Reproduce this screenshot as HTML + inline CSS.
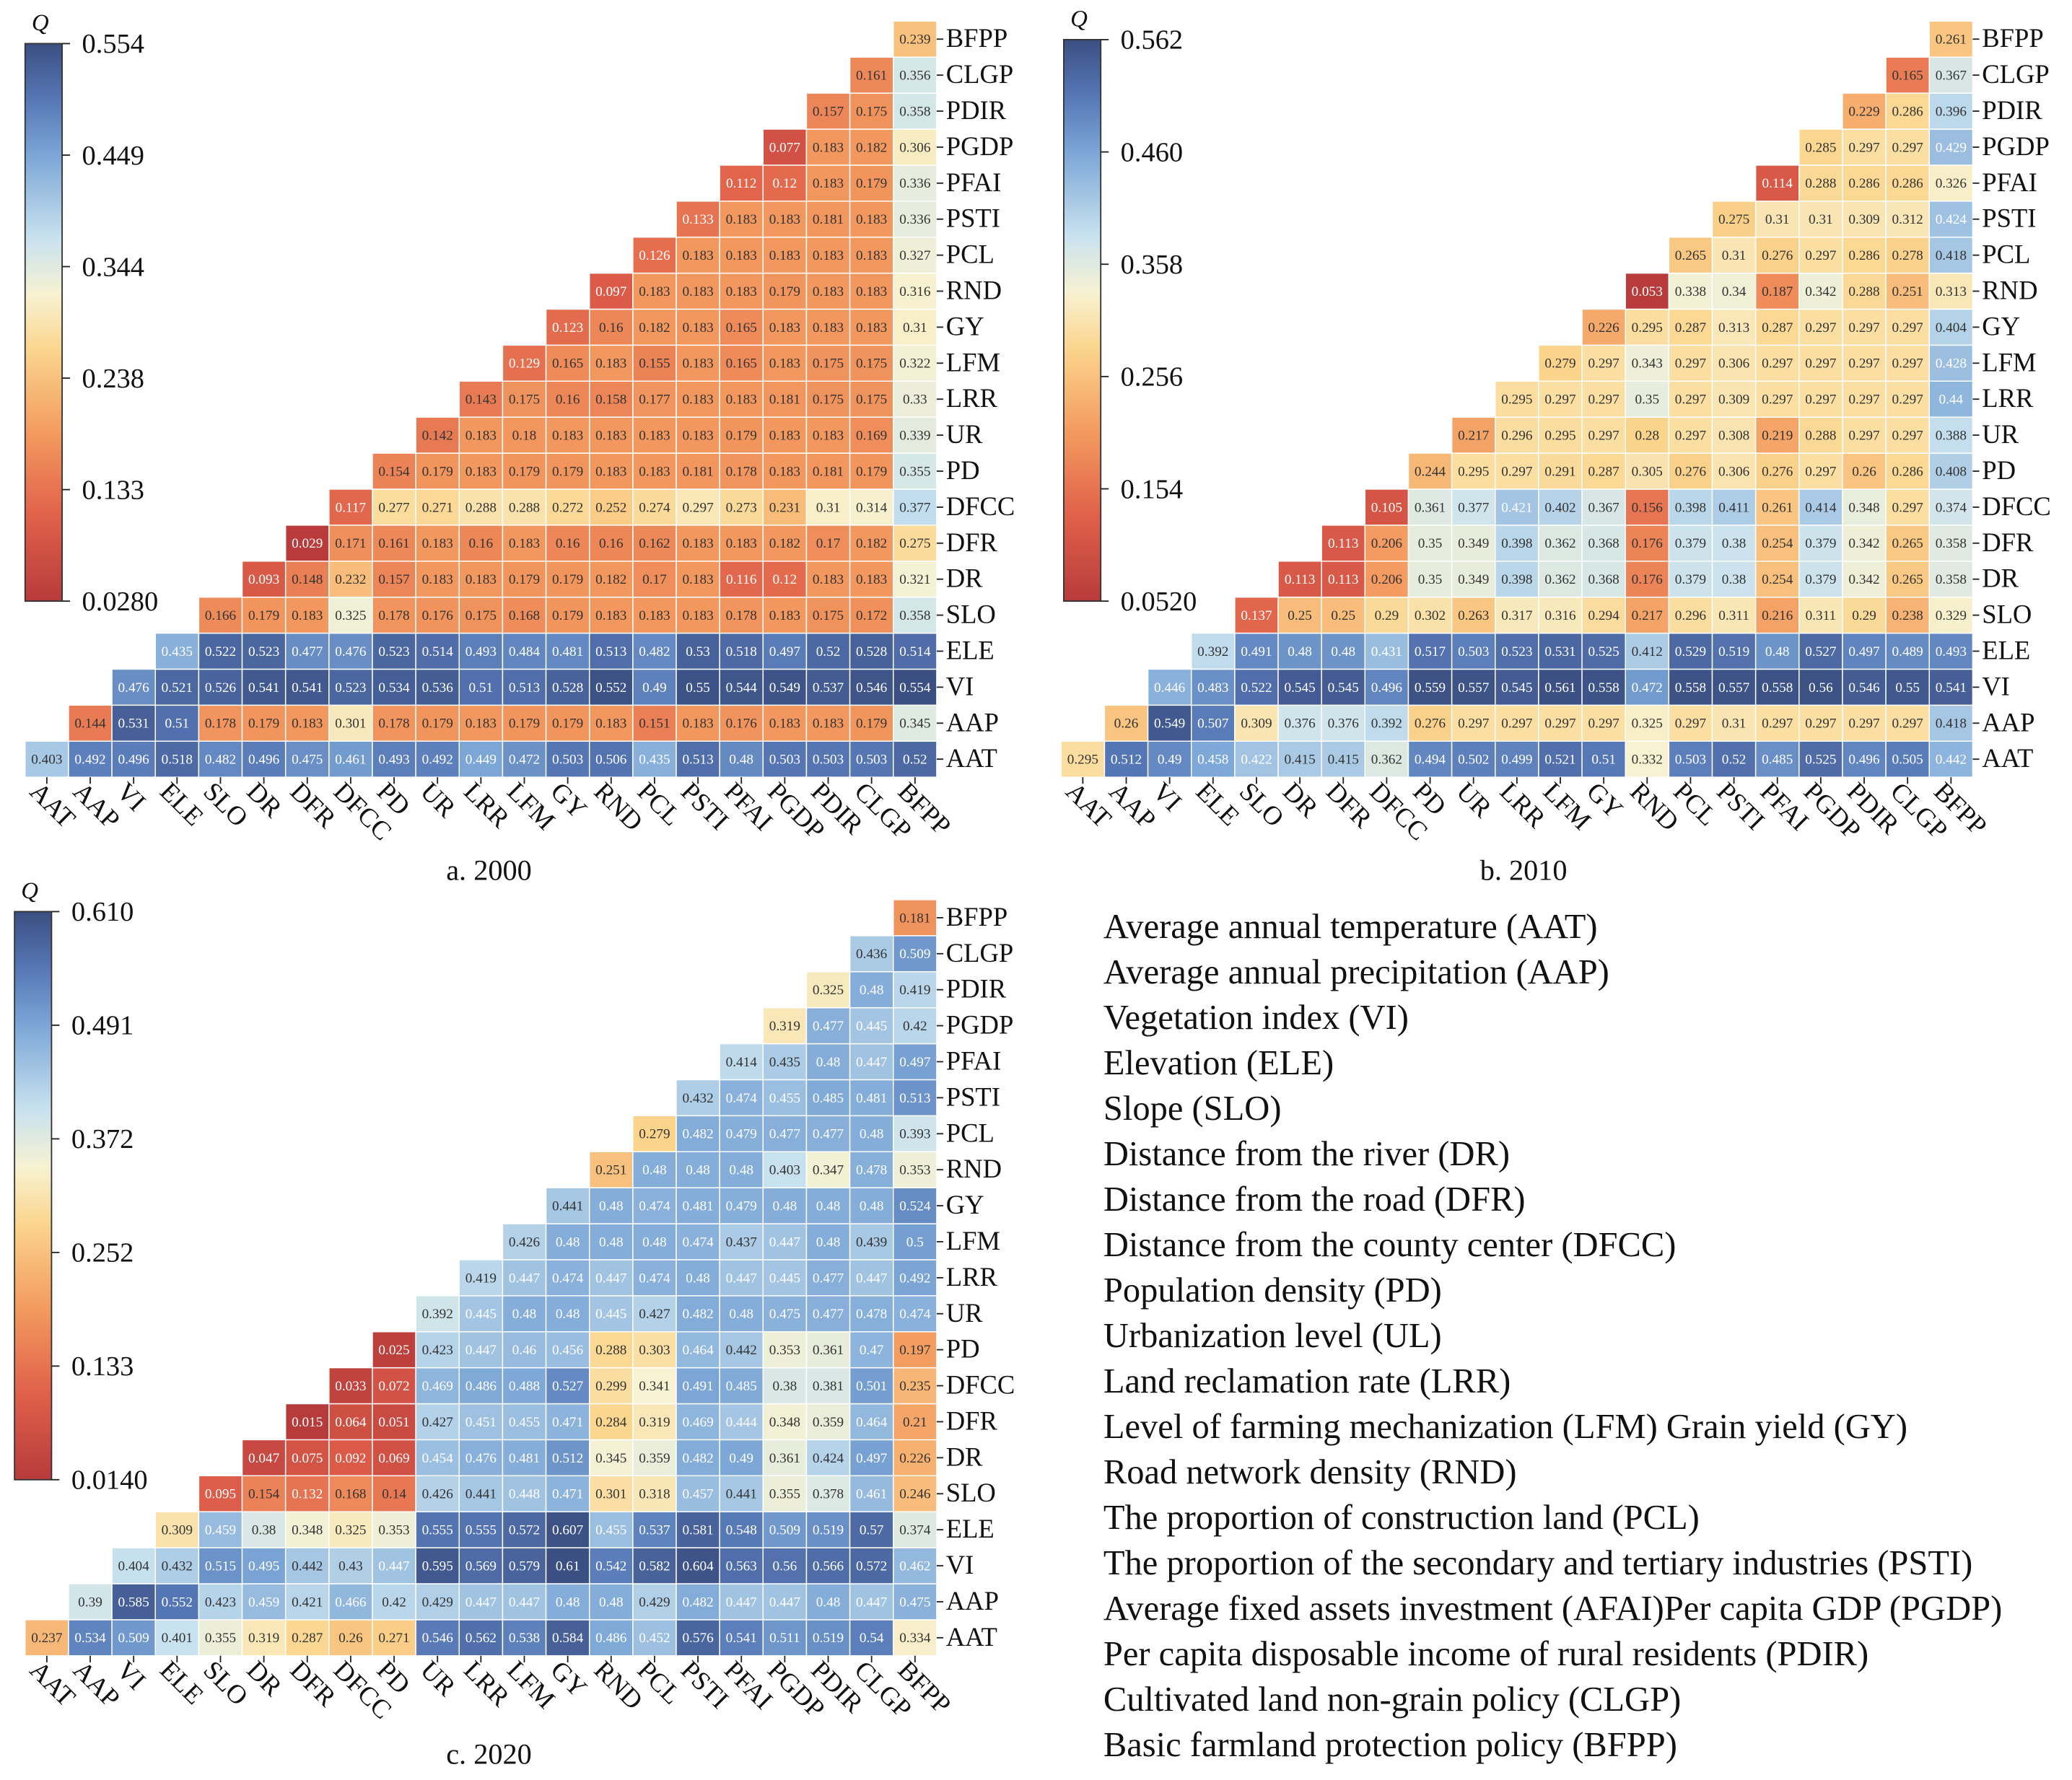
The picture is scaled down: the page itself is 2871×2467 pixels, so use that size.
<!DOCTYPE html>
<html><head><meta charset="utf-8"><style>html,body{margin:0;padding:0;background:#fff}svg{display:block}</style></head>
<body>
<svg id="chart" width="2871" height="2467" viewBox="0 0 1568 1347.3" preserveAspectRatio="none" xmlns="http://www.w3.org/2000/svg" font-family="Liberation Serif, serif">
<defs>
<linearGradient id="cb" x1="0" y1="1" x2="0" y2="0">
<stop offset="0" stop-color="#b83b3b"/><stop offset="0.15" stop-color="#e0604a"/><stop offset="0.3" stop-color="#f39a5f"/><stop offset="0.45" stop-color="#fbd58d"/><stop offset="0.55" stop-color="#f7f2d2"/><stop offset="0.65" stop-color="#c9e2ef"/><stop offset="0.8" stop-color="#7ba6d6"/><stop offset="0.9" stop-color="#5677b5"/><stop offset="1" stop-color="#3b4f82"/>
</linearGradient>
</defs>
<g id="legend" font-size="26.5" fill="#111"></g>
</svg>
<script>
const labels=["AAT","AAP","VI","ELE","SLO","DR","DFR","DFCC","PD","UR","LRR","LFM","GY","RND","PCL","PSTI","PFAI","PGDP","PDIR","CLGP","BFPP"];
const valsA=[
[0.403,0.492,0.496,0.518,0.482,0.496,0.475,0.461,0.493,0.492,0.449,0.472,0.503,0.506,0.435,0.513,0.48,0.503,0.503,0.503,0.52],
[0.144,0.531,0.51,0.178,0.179,0.183,0.301,0.178,0.179,0.183,0.179,0.179,0.183,0.151,0.183,0.176,0.183,0.183,0.179,0.345],
[0.476,0.521,0.526,0.541,0.541,0.523,0.534,0.536,0.51,0.513,0.528,0.552,0.49,0.55,0.544,0.549,0.537,0.546,0.554],
[0.435,0.522,0.523,0.477,0.476,0.523,0.514,0.493,0.484,0.481,0.513,0.482,0.53,0.518,0.497,0.52,0.528,0.514],
[0.166,0.179,0.183,0.325,0.178,0.176,0.175,0.168,0.179,0.183,0.183,0.183,0.178,0.183,0.175,0.172,0.358],
[0.093,0.148,0.232,0.157,0.183,0.183,0.179,0.179,0.182,0.17,0.183,0.116,0.12,0.183,0.183,0.321],
[0.029,0.171,0.161,0.183,0.16,0.183,0.16,0.16,0.162,0.183,0.183,0.182,0.17,0.182,0.275],
[0.117,0.277,0.271,0.288,0.288,0.272,0.252,0.274,0.297,0.273,0.231,0.31,0.314,0.377],
[0.154,0.179,0.183,0.179,0.179,0.183,0.183,0.181,0.178,0.183,0.181,0.179,0.355],
[0.142,0.183,0.18,0.183,0.183,0.183,0.183,0.179,0.183,0.183,0.169,0.339],
[0.143,0.175,0.16,0.158,0.177,0.183,0.183,0.181,0.175,0.175,0.33],
[0.129,0.165,0.183,0.155,0.183,0.165,0.183,0.175,0.175,0.322],
[0.123,0.16,0.182,0.183,0.165,0.183,0.183,0.183,0.31],
[0.097,0.183,0.183,0.183,0.179,0.183,0.183,0.316],
[0.126,0.183,0.183,0.183,0.183,0.183,0.327],
[0.133,0.183,0.183,0.181,0.183,0.336],
[0.112,0.12,0.183,0.179,0.336],
[0.077,0.183,0.182,0.306],
[0.157,0.175,0.358],
[0.161,0.356],
[0.239]];
const valsB=[
[0.295,0.512,0.49,0.458,0.422,0.415,0.415,0.362,0.494,0.502,0.499,0.521,0.51,0.332,0.503,0.52,0.485,0.525,0.496,0.505,0.442],
[0.26,0.549,0.507,0.309,0.376,0.376,0.392,0.276,0.297,0.297,0.297,0.297,0.325,0.297,0.31,0.297,0.297,0.297,0.297,0.418],
[0.446,0.483,0.522,0.545,0.545,0.496,0.559,0.557,0.545,0.561,0.558,0.472,0.558,0.557,0.558,0.56,0.546,0.55,0.541],
[0.392,0.491,0.48,0.48,0.431,0.517,0.503,0.523,0.531,0.525,0.412,0.529,0.519,0.48,0.527,0.497,0.489,0.493],
[0.137,0.25,0.25,0.29,0.302,0.263,0.317,0.316,0.294,0.217,0.296,0.311,0.216,0.311,0.29,0.238,0.329],
[0.113,0.113,0.206,0.35,0.349,0.398,0.362,0.368,0.176,0.379,0.38,0.254,0.379,0.342,0.265,0.358],
[0.113,0.206,0.35,0.349,0.398,0.362,0.368,0.176,0.379,0.38,0.254,0.379,0.342,0.265,0.358],
[0.105,0.361,0.377,0.421,0.402,0.367,0.156,0.398,0.411,0.261,0.414,0.348,0.297,0.374],
[0.244,0.295,0.297,0.291,0.287,0.305,0.276,0.306,0.276,0.297,0.26,0.286,0.408],
[0.217,0.296,0.295,0.297,0.28,0.297,0.308,0.219,0.288,0.297,0.297,0.388],
[0.295,0.297,0.297,0.35,0.297,0.309,0.297,0.297,0.297,0.297,0.44],
[0.279,0.297,0.343,0.297,0.306,0.297,0.297,0.297,0.297,0.428],
[0.226,0.295,0.287,0.313,0.287,0.297,0.297,0.297,0.404],
[0.053,0.338,0.34,0.187,0.342,0.288,0.251,0.313],
[0.265,0.31,0.276,0.297,0.286,0.278,0.418],
[0.275,0.31,0.31,0.309,0.312,0.424],
[0.114,0.288,0.286,0.286,0.326],
[0.285,0.297,0.297,0.429],
[0.229,0.286,0.396],
[0.165,0.367],
[0.261]];
const valsC=[
[0.237,0.534,0.509,0.401,0.355,0.319,0.287,0.26,0.271,0.546,0.562,0.538,0.584,0.486,0.452,0.576,0.541,0.511,0.519,0.54,0.334],
[0.39,0.585,0.552,0.423,0.459,0.421,0.466,0.42,0.429,0.447,0.447,0.48,0.48,0.429,0.482,0.447,0.447,0.48,0.447,0.475],
[0.404,0.432,0.515,0.495,0.442,0.43,0.447,0.595,0.569,0.579,0.61,0.542,0.582,0.604,0.563,0.56,0.566,0.572,0.462],
[0.309,0.459,0.38,0.348,0.325,0.353,0.555,0.555,0.572,0.607,0.455,0.537,0.581,0.548,0.509,0.519,0.57,0.374],
[0.095,0.154,0.132,0.168,0.14,0.426,0.441,0.448,0.471,0.301,0.318,0.457,0.441,0.355,0.378,0.461,0.246],
[0.047,0.075,0.092,0.069,0.454,0.476,0.481,0.512,0.345,0.359,0.482,0.49,0.361,0.424,0.497,0.226],
[0.015,0.064,0.051,0.427,0.451,0.455,0.471,0.284,0.319,0.469,0.444,0.348,0.359,0.464,0.21],
[0.033,0.072,0.469,0.486,0.488,0.527,0.299,0.341,0.491,0.485,0.38,0.381,0.501,0.235],
[0.025,0.423,0.447,0.46,0.456,0.288,0.303,0.464,0.442,0.353,0.361,0.47,0.197],
[0.392,0.445,0.48,0.48,0.445,0.427,0.482,0.48,0.475,0.477,0.478,0.474],
[0.419,0.447,0.474,0.447,0.474,0.48,0.447,0.445,0.477,0.447,0.492],
[0.426,0.48,0.48,0.48,0.474,0.437,0.447,0.48,0.439,0.5],
[0.441,0.48,0.474,0.481,0.479,0.48,0.48,0.48,0.524],
[0.251,0.48,0.48,0.48,0.403,0.347,0.478,0.353],
[0.279,0.482,0.479,0.477,0.477,0.48,0.393],
[0.432,0.474,0.455,0.485,0.481,0.513],
[0.414,0.435,0.48,0.447,0.497],
[0.319,0.477,0.445,0.42],
[0.325,0.48,0.419],
[0.436,0.509],
[0.181]];
const ticksA=["0.554","0.449","0.344","0.238","0.133","0.0280"];
const ticksB=["0.562","0.460","0.358","0.256","0.154","0.0520"];
const ticksC=["0.610","0.491","0.372","0.252","0.133","0.0140"];
const rangeA=[0.028,0.554], rangeB=[0.052,0.562], rangeC=[0.014,0.610];
const legendLines=["Average annual temperature (AAT)","Average annual precipitation (AAP)","Vegetation index (VI)","Elevation (ELE)","Slope (SLO)","Distance from the river (DR)","Distance from the road (DFR)","Distance from the county center (DFCC)","Population density (PD)","Urbanization level (UL)","Land reclamation rate (LRR)","Level of farming mechanization (LFM) Grain yield (GY)","Road network density (RND)","The proportion of construction land (PCL)","The proportion of the secondary and tertiary industries (PSTI)","Average fixed assets investment (AFAI)Per capita GDP (PGDP)","Per capita disposable income of rural residents (PDIR)","Cultivated land non-grain policy (CLGP)","Basic farmland protection policy (BFPP)"];

const NS="http://www.w3.org/2000/svg";
const svg=document.getElementById('chart');
const stops=[[0,[184,59,59]],[0.15,[224,96,74]],[0.3,[243,154,95]],[0.45,[251,213,141]],[0.55,[247,242,210]],[0.65,[201,226,239]],[0.8,[123,166,214]],[0.9,[86,119,181]],[1,[59,79,130]]];
function cmap(t){t=Math.max(0,Math.min(1,t));for(let i=1;i<stops.length;i++){if(t<=stops[i][0]){const a=stops[i-1],b=stops[i];const f=(t-a[0])/(b[0]-a[0]);const c=a[1].map((v,k)=>Math.round(v+(b[1][k]-v)*f));return `rgb(${c})`;}}return 'rgb(59,79,130)';}
function mk(tag,attrs,parent){const e=document.createElementNS(NS,tag);for(const k in attrs)e.setAttribute(k,attrs[k]);(parent||svg).appendChild(e);return e;}

function panel(id,vals,range,ticks,gx,gy,cbx,cby0,cby1,caption,capx,capy){
  const g=mk('g',{});
  
  
  const cw=32.85, ch=27.25, n=labels.length;
  const xS=c=>gx+c*cw; const yS=r=>gy+(n-1-r)*ch;
  const norm=v=>(v-range[0])/(range[1]-range[0]);
  vals.forEach((row,r)=>{row.forEach((v,k)=>{const c=r+k;const t=norm(v);
    const rect=mk('rect',{x:xS(c),y:yS(r),width:cw,height:ch,fill:cmap(t),stroke:'#fff','stroke-width':0.8},g);
    
    
    const tx=mk('text',{x:xS(c)+cw/2,y:yS(r)+ch/2+3.5,'text-anchor':'middle','font-size':10.5,fill:(t<0.2||t>0.72)?'#fff':'#333'},g);
    tx.textContent=String(v);
    
    
  });});
  labels.forEach((l,r)=>{const y=yS(r)+ch/2;const x=xS(n);
    mk('line',{x1:x,y1:y,x2:x+5,y2:y,stroke:'#222','stroke-width':1},g);
    const t=mk('text',{x:x+7,y:y+6,'font-size':20,fill:'#111'},g);t.textContent=l;
    
    
  });
  const by=yS(0)+ch;
  labels.forEach((l,c)=>{const x=xS(c)+cw/2;
    mk('line',{x1:x,y1:by,x2:x,y2:by+5,stroke:'#222','stroke-width':1},g);
    const t=mk('text',{x:0,y:0,'font-size':20,fill:'#111',transform:`translate(${x-14},${by+12}) rotate(45)`},g);t.textContent=l;
    
    
  });
  const cb=mk('rect',{x:cbx,y:cby0,width:28,height:cby1-cby0,fill:'url(#cb)',stroke:'#333','stroke-width':1},g);
  
  
  const q=mk('text',{x:cbx+5,y:cby0-10,'font-size':18,'font-style':'italic',fill:'#111'},g);q.textContent='Q';
  
  
  ticks.forEach((tk,i)=>{const y=cby0+(cby1-cby0)*i/(ticks.length-1);
    mk('line',{x1:cbx+28,y1:y,x2:cbx+34,y2:y,stroke:'#222'},g);
    const t=mk('text',{x:cbx+43,y:y+7,'font-size':21,fill:'#111'},g);t.textContent=tk;
    
    
  });
  const cp=mk('text',{x:capx,y:capy,'font-size':22,'text-anchor':'middle',fill:'#111'},g);cp.textContent=caption;
  
  
}
panel('a-2000',valsA,rangeA,ticksA,19,16,19,33,455,'a. 2000',370,666);
panel('b-2010',valsB,rangeB,ticksB,803,16,805,30,455,'b. 2010',1153,666);
panel('c-2020',valsC,rangeC,ticksC,19,681,11,690,1120,'c. 2020',370,1335);
const lg=document.getElementById('legend');
legendLines.forEach((s,i)=>{const t=mk('text',{x:835,y:710+i*34.4},lg);t.textContent=s;
  
  
});
</script>
</body></html>
